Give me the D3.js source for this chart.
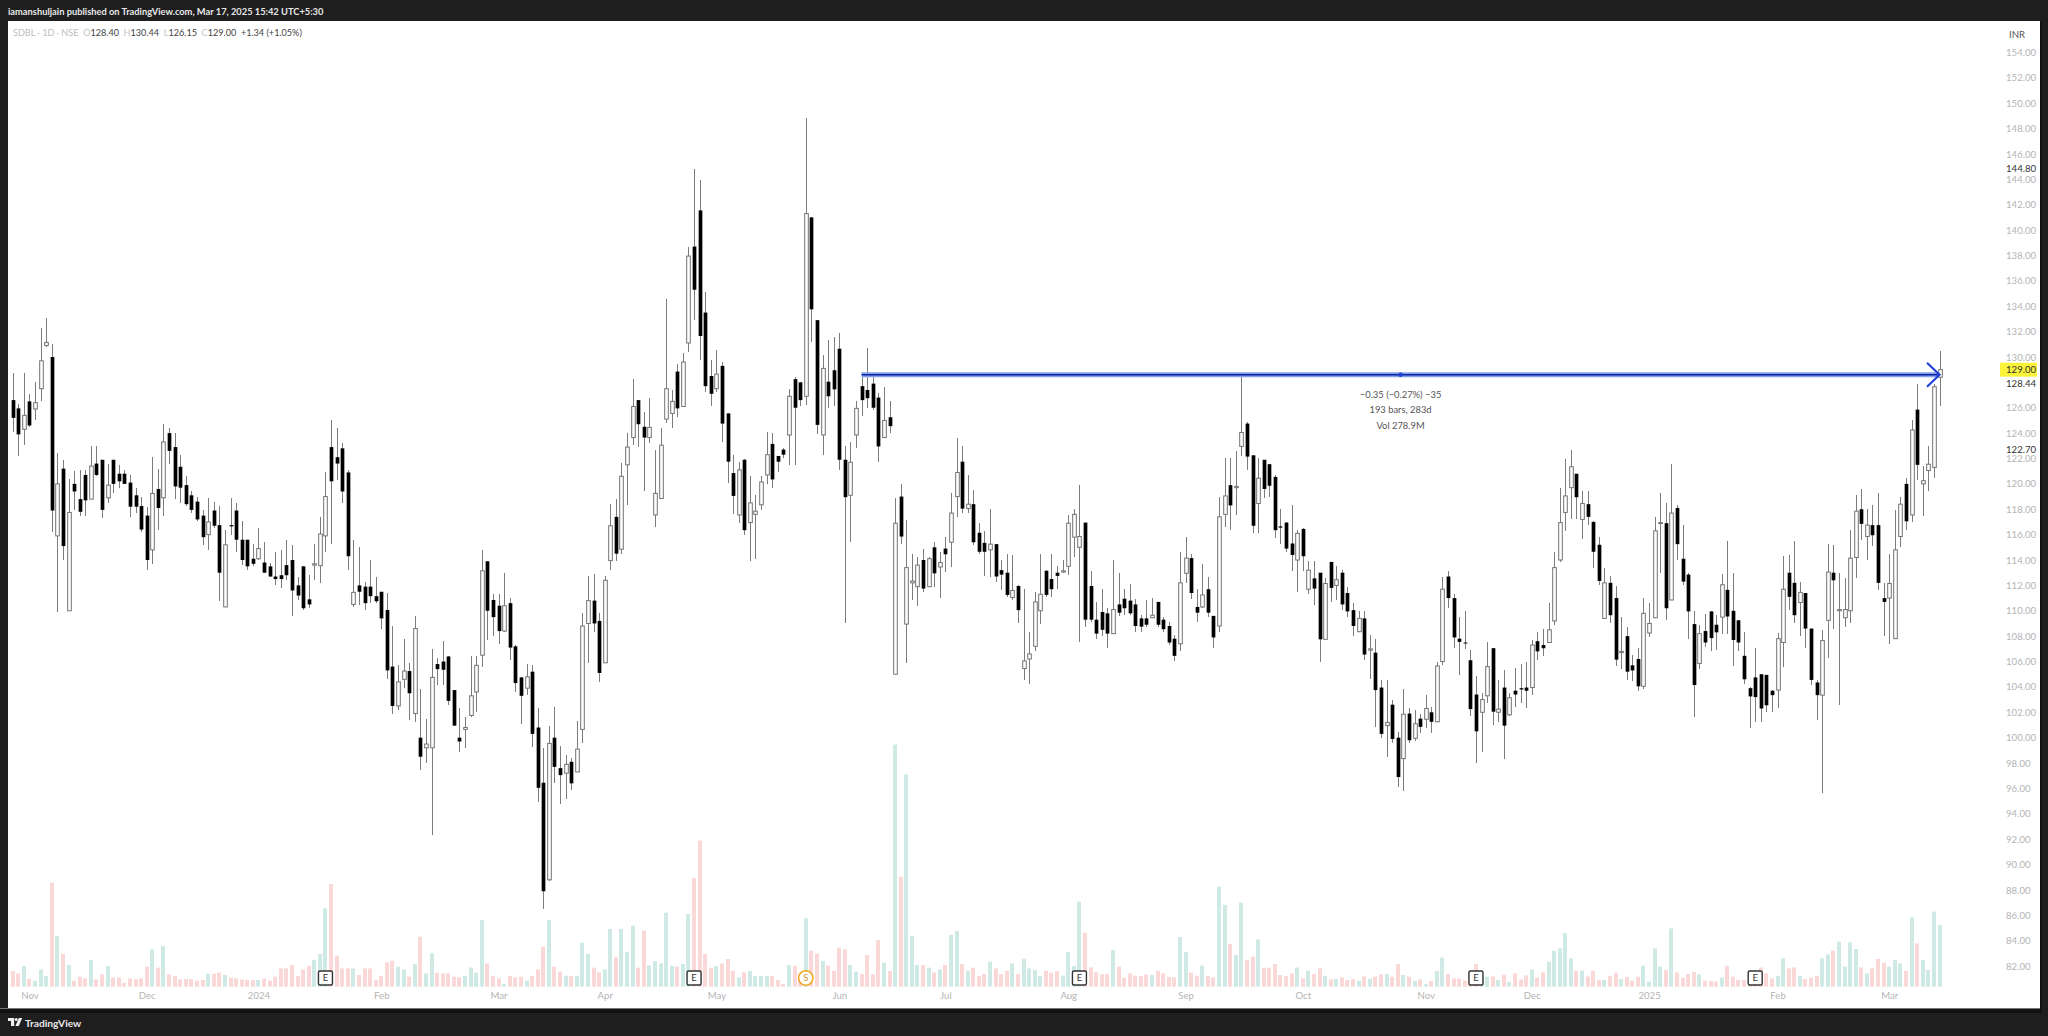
<!DOCTYPE html>
<html>
<head>
<meta charset="utf-8">
<script src="https://cdn.jsdelivr.net/npm/d3@7"></script>
<style>
  html, body { margin: 0; padding: 0; background: #1e1e1e; overflow: hidden; }
  text { font-family: Lato, Roboto, sans-serif; }
</style>
</head>
<body>
<script>
var width = 2048, height = 1036

// daily bars, Nov 2023 to 17 Mar 2025
var open = [
  126.6,125.95,124.3,126.5,125.9,127.5,130.9,130.0,115.9,121.2,
  110.0,120.0,118.8,120.7,118.8,121.6,121.9,118.9,121.9,120.8,
  120.8,120.1,119.1,118.25,117.5,114.8,119.6,118.9,124.0,122.9,
  121.35,119.9,119.1,118.6,117.5,116.0,117.9,116.75,110.3,116.75,
  117.9,115.6,115.6,114.1,114.1,113.8,113.5,112.7,112.8,113.6,
  114.0,112.0,113.5,110.9,113.6,113.55,115.9,122.9,122.1,122.8,
  120.9,110.5,112.0,111.9,111.9,111.15,111.5,110.06,105.6,102.5,
  104.6,105.25,101.9,100.0,99.2,99.2,105.8,106.0,106.4,103.75,
  100.0,100.65,101.75,103.6,106.5,113.9,110.85,110.4,108.4,110.6,
  107.2,104.75,103.9,105.2,100.8,96.45,88.8,100.0,97.6,97.2,
  98.1,97.3,100.65,109.0,110.8,109.2,105.9,113.95,117.4,114.85,
  121.5,123.65,126.6,124.5,123.65,117.55,118.85,125.1,125.55,128.85,
  126.1,131.1,138.7,141.55,133.5,128.5,127.5,129.3,125.55,120.85,
  117.55,121.9,116.95,117.6,118.35,120.7,123.15,122.2,122.7,123.85,
  128.25,128.0,126.9,141.0,132.9,123.85,128.05,128.95,130.65,121.9,
  119.1,123.85,127.7,127.4,127.9,126.8,123.65,125.25,105.0,119.0,
  108.95,112.2,111.9,114.0,111.9,115.0,113.45,114.9,115.4,119.0,
  121.75,118.05,118.4,116.15,115.35,114.8,115.25,113.2,113.0,111.05,
  111.95,105.45,106.2,107.2,110.0,113.15,112.5,113.0,113.05,113.5,
  115.8,115.0,116.95,111.95,109.3,109.9,109.8,108.2,110.5,110.95,
  110.8,110.5,109.4,109.4,109.45,110.7,109.3,108.8,107.8,107.4,
  112.95,114.15,110.3,110.3,111.7,109.6,108.8,117.6,119.9,119.7,
  122.95,124.75,122.25,118.45,121.9,121.55,120.55,116.65,116.95,115.3,
  114.0,116.45,111.7,112.55,113.0,107.75,113.85,112.0,113.0,111.4,
  110.05,108.35,109.4,106.9,106.7,103.95,100.95,102.6,100.0,98.35,
  101.9,99.95,101.5,101.45,102.0,101.25,106.0,112.7,111.0,107.8,
  107.5,106.1,103.4,102.0,103.3,107.05,102.0,103.95,101.8,103.7,
  103.9,103.95,103.95,107.6,107.3,107.5,109.2,114.0,117.75,119.7,
  120.8,117.2,118.4,117.0,115.2,109.4,112.2,111.0,106.7,108.0,
  105.7,106.2,104.05,108.25,109.45,116.9,116.9,110.85,118.1,114.1,
  112.85,108.95,105.85,108.4,109.95,108.9,109.5,111.65,110.0,109.25,
  106.45,103.9,104.75,105.0,104.95,103.7,103.75,107.5,113.0,112.2,
  110.65,111.4,108.6,104.35,103.35,109.25,113.0,110.0,109.45,110.0,
  114.2,118.0,115.85,116.75,116.75,111.0,111.0,107.8,115.85,120.0,
  117.55,125.85,120.0,121.05,121.3,128.4]

var high = [
  128.7,126.3,128.7,127.1,128.05,132.3,133.05,131.0,122.4,121.9,
  120.4,121.0,121.1,121.1,123.0,123.0,121.9,121.6,121.9,121.5,
  121.1,120.7,119.7,119.0,118.2,122.1,121.2,124.7,124.4,124.0,
  122.3,120.6,119.4,119.0,117.95,118.9,118.6,118.25,116.4,118.9,
  118.5,117.1,115.6,115.3,116.5,115.4,113.8,114.6,114.8,115.6,
  115.2,112.7,113.5,112.8,115.3,117.4,120.9,125.0,124.4,123.2,
  121.1,115.6,115.0,112.3,114.0,112.7,111.5,111.4,108.8,105.7,
  107.8,105.9,109.6,103.8,101.5,107.0,106.25,107.6,106.4,103.75,
  102.3,101.65,106.4,106.4,114.8,113.9,111.3,111.3,113.0,111.0,
  107.3,104.75,105.8,105.7,102.3,99.2,100.9,102.45,99.35,98.6,
  98.4,101.3,109.8,112.75,112.9,109.8,112.75,118.4,118.8,121.65,
  124.0,128.3,126.6,125.7,126.75,122.65,124.4,134.55,127.4,129.45,
  130.3,138.7,144.8,143.95,135.15,129.75,130.55,129.6,125.55,122.25,
  121.75,121.95,120.6,119.1,120.6,124.1,124.0,122.2,122.8,127.5,
  128.45,128.0,148.8,141.0,132.9,130.15,131.35,131.55,131.85,123.0,
  123.3,126.5,128.6,130.7,128.7,127.15,127.65,126.55,118.85,120.0,
  117.15,114.5,114.25,114.9,114.25,115.45,114.6,115.85,119.25,123.6,
  123.0,120.7,119.55,116.9,116.25,118.0,115.3,114.0,114.45,114.4,
  112.05,111.75,108.35,111.45,114.5,113.2,114.5,113.5,114.0,117.55,
  118.0,119.9,116.95,113.15,110.7,111.7,110.2,114.0,113.0,111.75,
  112.1,110.9,109.65,110.85,111.0,110.7,109.5,109.1,108.1,114.65,
  115.85,114.45,111.75,113.7,112.7,109.6,119.0,122.0,122.0,122.6,
  128.5,124.9,122.25,122.0,121.9,121.6,120.7,118.0,117.0,118.35,
  116.35,116.5,113.9,113.9,113.0,112.55,113.85,113.5,113.2,111.9,
  110.6,109.95,109.95,108.1,107.75,104.55,104.55,103.0,100.45,103.8,
  102.3,102.2,101.9,103.4,102.45,106.0,112.7,113.15,111.35,109.5,
  110.0,106.9,104.85,103.5,107.5,107.05,104.55,105.35,103.5,105.5,
  105.8,106.0,107.7,108.3,108.55,110.65,114.6,119.65,121.95,122.7,
  120.8,119.45,119.45,117.1,115.85,113.35,112.75,111.95,109.5,108.75,
  106.5,107.05,111.0,110.6,117.4,119.3,118.5,121.55,118.35,116.75,
  112.95,109.95,108.9,109.75,109.95,109.65,112.9,115.5,113.0,109.25,
  108.3,104.0,107.05,105.05,104.95,103.75,108.25,114.35,114.4,115.5,
  112.25,111.4,108.6,104.55,108.5,115.25,115.15,112.95,112.55,116.4,
  119.1,119.6,118.05,118.35,119.25,112.2,114.5,117.95,119.0,120.5,
  125.05,127.85,121.4,123.0,127.9,130.44]

var low = [
  124.1,122.2,123.1,124.5,125.0,126.5,130.8,116.2,109.9,114.0,
  110.0,117.95,117.5,117.5,118.8,120.6,117.3,118.5,119.3,119.65,
  120.0,117.4,117.7,116.2,113.2,113.7,116.4,117.5,121.6,118.8,
  118.5,118.25,117.7,117.1,115.2,114.8,116.5,110.8,110.3,116.0,
  114.65,113.6,113.2,113.5,114.0,112.95,112.7,112.0,111.8,112.4,
  109.6,110.85,110.1,110.2,112.4,112.2,114.65,115.3,120.3,118.5,
  113.2,110.3,110.45,110.05,110.6,110.6,108.6,104.6,101.9,102.2,
  103.9,101.4,101.2,97.45,98.0,92.3,104.15,104.15,102.6,100.9,
  98.9,99.2,101.65,102.05,105.6,107.7,108.0,107.35,108.35,106.1,
  103.6,101.1,103.35,99.25,94.95,86.5,88.7,96.4,94.8,95.2,
  95.9,97.3,99.6,105.85,108.35,104.4,105.85,113.2,113.95,114.5,
  118.3,123.05,122.9,119.4,123.2,116.6,118.85,124.8,124.4,125.3,
  126.05,130.4,132.9,129.8,127.25,126.1,127.25,123.3,120.05,117.65,
  116.9,115.95,113.9,114.05,117.95,120.0,119.65,120.95,122.0,121.5,
  121.5,126.1,126.2,131.2,123.95,122.3,125.95,126.1,121.1,109.05,
  115.45,122.8,125.35,125.95,125.8,121.75,123.6,124.0,105.0,115.3,
  105.85,110.85,110.4,111.5,111.85,111.9,111.0,113.05,113.45,117.35,
  117.7,117.7,115.2,114.45,112.75,112.7,112.3,111.65,111.05,110.85,
  109.0,104.55,104.2,106.8,108.95,111.05,111.1,111.7,112.95,112.8,
  114.25,107.55,108.75,109.15,107.8,108.0,107.1,108.2,109.55,109.65,
  109.65,108.35,108.35,108.75,109.4,108.75,108.35,107.3,106.05,106.8,
  112.15,110.9,109.15,110.2,109.5,107.1,108.35,116.6,116.35,117.55,
  122.2,121.1,116.15,116.1,118.85,119.0,115.7,115.3,114.65,113.1,
  111.5,113.1,111.35,110.45,106.0,107.75,110.7,110.85,110.05,109.5,
  108.0,108.35,106.1,104.6,100.85,99.95,98.5,99.55,96.1,95.8,
  99.55,99.7,100.4,100.75,100.4,101.25,105.7,110.2,107.05,104.95,
  107.0,101.7,98.0,98.9,102.7,101.0,101.25,98.35,101.7,102.45,
  102.7,102.3,103.35,106.1,106.4,107.45,108.9,113.85,116.25,117.2,
  117.2,115.65,116.75,113.4,112.0,109.4,109.0,105.65,105.45,104.55,
  104.5,103.7,103.8,107.9,109.4,113.0,109.3,110.85,114.0,112.05,
  107.75,101.6,105.4,107.15,106.85,106.9,108.2,108.2,105.65,106.8,
  104.25,100.75,101.25,101.25,102.0,102.0,102.3,105.6,110.1,109.0,
  108.0,107.1,104.15,101.4,95.65,106.25,108.55,102.6,108.7,109.0,
  112.55,115.55,114.0,115.1,111.65,108.0,107.4,107.75,115.0,116.4,
  117.0,120.3,117.5,119.4,120.45,126.15]

var close = [
  125.2,123.9,125.4,124.6,126.4,129.7,131.15,117.9,120.0,115.1,
  117.75,119.4,117.8,118.7,121.4,120.7,117.95,119.9,120.0,120.2,
  120.0,118.2,118.2,116.4,114.0,119.25,118.1,123.3,122.6,119.8,
  119.7,118.4,117.95,117.2,115.8,117.0,116.7,113.0,115.2,116.65,
  115.6,114.0,113.5,113.7,114.9,113.0,112.7,112.5,112.5,112.8,
  111.6,111.2,110.2,110.5,113.7,116.05,119.0,120.2,121.6,119.4,
  114.3,111.45,111.5,110.6,111.15,110.75,109.4,105.3,102.5,104.4,
  105.25,103.5,108.6,98.5,99.5,104.75,105.4,105.35,102.9,100.95,
  99.7,100.8,103.3,105.7,113.15,110.0,109.5,108.4,110.4,107.1,
  104.3,103.3,104.8,100.3,96.05,87.9,99.55,97.7,97.05,97.9,
  96.4,99.1,108.8,110.8,109.0,105.1,112.4,116.7,114.5,120.6,
  122.9,126.1,124.7,123.65,124.45,119.25,123.05,127.5,126.5,125.95,
  129.6,137.95,135.3,131.65,127.7,127.1,128.65,124.75,121.75,119.05,
  121.1,116.35,118.5,117.85,120.15,122.3,120.35,121.75,122.3,126.9,
  126.0,126.6,141.3,133.75,124.65,129.1,126.9,127.45,121.9,118.95,
  121.7,125.95,126.6,126.75,126.0,122.95,125.0,124.55,116.9,115.85,
  113.4,112.35,113.6,111.75,114.1,112.95,113.8,114.45,117.7,120.9,
  118.05,118.4,115.4,114.65,114.65,115.25,112.7,112.85,111.25,111.6,
  110.05,106.05,106.6,110.7,111.3,111.25,111.7,112.75,113.15,116.9,
  117.6,115.85,109.3,109.3,108.2,108.5,108.2,110.1,109.85,110.2,
  109.8,108.8,108.75,108.9,109.65,108.9,108.55,107.5,106.45,112.2,
  114.15,111.4,109.85,111.25,109.85,107.9,117.4,119.05,118.3,119.8,
  124.05,122.15,116.7,120.45,119.6,119.85,116.35,116.55,114.9,114.4,
  116.1,114.3,113.2,111.75,107.75,112.15,111.8,112.45,110.5,109.95,
  108.8,109.4,106.55,107.0,103.75,100.3,101.2,99.9,96.9,101.85,
  99.8,101.1,100.85,102.3,101.25,105.65,111.7,111.0,107.9,107.55,
  107.45,102.25,100.5,103.0,105.6,102.05,102.25,100.95,103.15,103.4,
  103.8,103.7,107.3,106.8,107.05,108.5,113.4,116.95,119.05,121.35,
  118.95,118.45,117.4,114.65,112.35,112.2,109.65,106.15,106.8,105.2,
  105.3,104.05,109.8,109.0,116.3,116.95,110.2,117.7,115.25,112.3,
  109.95,104.15,108.2,107.5,107.85,108.3,112.05,109.55,107.7,107.5,
  104.6,103.25,103.2,102.3,102.55,103.35,107.8,111.7,111.1,109.65,
  111.45,108.6,104.55,103.35,107.65,113.05,112.4,110.1,110.1,114.15,
  117.85,116.85,116.75,115.95,112.2,110.7,112.15,114.8,118.4,117.05,
  124.25,121.5,120.25,121.55,127.65,129.0]

// volume in millions of shares
var volume = [
  1.57,1.33,2.07,.8,.6,1.73,1.07,10.4,5.07,3.27,
  2.17,.6,1.0,.83,2.67,.73,1.23,2.07,.93,.93,
  .4,.83,.73,.83,2.0,3.73,1.9,4.07,1.23,1.07,
  .73,.77,.77,.6,.67,1.3,1.3,1.4,1.17,.9,
  .83,.73,.67,.67,.67,.8,.6,1.0,1.83,1.83,
  2.17,1.07,1.73,2.07,2.67,3.27,7.83,10.27,3.1,1.83,
  1.83,1.83,1.17,1.83,1.83,.67,1.07,2.43,2.6,2.0,
  1.73,1.0,2.27,5.0,1.33,3.33,1.4,1.33,1.33,1.0,
  .93,1.07,1.93,1.4,6.67,2.33,1.07,.83,.27,1.07,
  .93,1.0,.6,1.07,1.73,4.0,6.67,2.0,1.5,1.1,
  1.07,1.07,4.4,3.27,1.9,1.43,1.73,5.77,2.93,5.77,
  3.47,6.1,1.9,5.6,2.13,2.57,2.33,7.4,2.1,2.0,
  2.27,7.27,10.87,14.6,3.27,1.9,2.07,2.33,2.77,1.6,
  .93,1.43,1.57,1.07,1.07,1.07,1.07,.67,.27,2.17,
  2.1,1.0,6.83,3.6,3.33,2.57,2.1,1.6,3.9,3.73,
  2.17,1.5,1.27,3.17,1.23,4.67,2.4,1.57,24.2,11.0,
  21.2,5.07,2.17,2.17,1.9,1.43,1.73,2.17,5.17,5.57,
  2.27,1.6,1.9,1.07,1.27,2.5,1.83,1.27,1.6,2.33,
  1.27,2.8,1.83,1.67,1.07,1.6,1.4,1.57,1.1,3.47,
  2.07,8.5,5.4,1.93,1.43,1.23,1.27,3.67,2.0,.9,
  1.33,1.1,1.07,1.23,1.17,1.6,1.33,.97,.93,4.97,
  3.47,1.4,1.1,2.1,1.1,.93,10.0,8.17,4.27,3.17,
  8.4,2.67,3.0,4.73,1.9,1.9,2.27,1.17,1.07,1.33,
  1.93,.83,1.6,1.27,1.83,1.07,.73,.77,.93,.67,
  .77,.6,1.03,.8,1.0,1.23,1.27,1.0,2.27,1.17,
  1.0,.57,.73,.27,.57,1.57,2.9,1.27,.83,.8,
  .6,1.5,2.27,1.17,1.0,1.03,.67,1.2,.47,1.33,
  .73,1.13,1.73,.93,1.43,2.5,3.6,3.83,5.37,2.83,
  1.6,1.6,1.03,1.6,.67,.67,1.07,1.4,.77,.97,
  .6,1.0,2.1,.5,3.83,2.0,1.67,5.83,1.43,.9,
  1.27,1.47,1.23,.6,.57,.5,.93,2.1,1.0,.67,
  .67,.83,1.17,1.93,1.33,.83,1.07,2.83,1.83,1.93,
  1.07,.77,.9,1.07,2.83,3.23,3.6,4.5,2.0,4.43,
  3.77,1.93,1.33,1.83,2.77,2.4,2.0,2.67,2.33,1.6,
  6.93,4.33,2.67,1.67,7.5,6.17]

var priceTicks = [82,84,86,88,90,92,94,96,98,100,102,104,106,108,110,112,114,116,118,
  120,122,124,126,128,130,132,134,136,138,140,142,144,146,148,150,152,154]
var monthBars = [3,24,44,66,87,106,126,148,167,189,210,231,253,272,293,316,336]
var monthLabels = ["Nov","Dec","2024","Feb","Mar","Apr","May","Jun","Jul","Aug","Sep","Oct","Nov","Dec","2025","Feb","Mar"]
var eventBars = [56,122,142,191,262,312]
var eventKinds = ["E","E","S","E","E","E"]
var priceMarks = [144.80,122.70]
var lastClose = 129.00, lastOpenLabel = 128.44
var measureFrom = 152, measureTo = 345, measurePrice = 128.6
var measureLines = ["\u22120.35 (\u22120.27%) \u221235","193 bars, 283d","Vol 278.9M"]

var x = d3.scaleLinear().domain([0, 345]).range([12.7, 1939.5])
var y = d3.scaleLinear().domain([82, 154]).range([966.1, 52.4])
var v = d3.scaleLinear().domain([0, 24.2]).range([986.7, 744.5])

var svg = d3.select("body").append("svg")
    .attr("width", width)
    .attr("height", height)
    .style("display", "block")

svg.append("rect").attr("width", width).attr("height", height).attr("fill", "#1e1e1e")
svg.append("rect").attr("x", 8).attr("y", 21).attr("width", 2032).attr("height", 987).attr("fill", "#fff")
svg.append("rect").attr("x", 0).attr("y", 1008).attr("width", 2040).attr("height", 1).attr("fill", "#777")
svg.append("rect").attr("x", 0).attr("y", 1009).attr("width", 2042).attr("height", 4).attr("fill", "#111")
svg.append("rect").attr("x", 2040).attr("y", 21).attr("width", 2).attr("height", 992).attr("fill", "#111")

// header and legend
svg.append("text").attr("x", 8).attr("y", 14.5)
    .attr("fill", "#e8e8e8").attr("font-size", 9.3).attr("font-weight", 700)
    .text("iamanshuljain published on TradingView.com, Mar 17, 2025 15:42 UTC+5:30")

var legend = svg.append("text").attr("x", 13).attr("y", 35.5).attr("font-size", 9.1)
var legendParts = [["SDBL \u00b7 1D \u00b7 NSE  ", "#bdbdbd"], ["O", "#c4c4c4"], ["128.40  ", "#444"], ["H", "#c4c4c4"], ["130.44  ", "#444"],
  ["L", "#c4c4c4"], ["126.15  ", "#444"], ["C", "#c4c4c4"], ["129.00  ", "#444"], ["+1.34 (+1.05%)", "#444"]]
legend.attr("xml:space", "preserve").style("white-space", "pre")
legend.selectAll("tspan").data(legendParts).enter().append("tspan")
    .attr("fill", function(d) { return d[1] })
    .text(function(d) { return d[0] })

// volume
svg.append("g").selectAll("rect")
    .data(volume)
  .enter().append("rect")
    .attr("x", function(d, i) { return Math.round(x(i)) - 2 })
    .attr("y", function(d) { return v(d) })
    .attr("width", 4)
    .attr("height", function(d) { return v(0) - v(d) })
    .attr("fill", function(d, i) { return close[i] >= open[i] ? "#cfeae5" : "#fbd8d8" })

// candles
var bars = svg.append("g")
  .selectAll("g")
    .data(d3.range(open.length))
  .enter().append("g")

bars.append("line")
    .attr("shape-rendering", "crispEdges")
    .attr("x1", function(i) { return Math.round(x(i)) + 0.5 })
    .attr("x2", function(i) { return Math.round(x(i)) + 0.5 })
    .attr("y1", function(i) { return y(high[i]) })
    .attr("y2", function(i) { return y(low[i]) })
    .attr("stroke", "#7c7c7c")

bars.append("rect")
    .attr("x", function(i) { return Math.round(x(i)) + 0.5 - (close[i] >= open[i] ? 1.8 : 1.85) })
    .attr("y", function(i) { return y(Math.max(open[i], close[i])) })
    .attr("width", function(i) { return close[i] >= open[i] ? 3.6 : 3.7 })
    .attr("height", function(i) { return Math.max(1, Math.abs(y(open[i]) - y(close[i]))) })
    .attr("fill", function(i) { return close[i] >= open[i] ? "#fff" : "#000" })
    .attr("stroke", function(i) { return close[i] >= open[i] ? "#727272" : "none" })
    .attr("stroke-width", 1)

// earnings and split markers
var events = svg.append("g").selectAll("g")
    .data(eventBars)
  .enter().append("g")
    .attr("transform", function(d) { return "translate(" + x(d) + ",978)" })

events.filter(function(d, i) { return eventKinds[i] == "E" }).append("rect")
    .attr("x", -7).attr("y", -7).attr("width", 14).attr("height", 14).attr("rx", 1.5)
    .attr("fill", "#fff").attr("stroke", "#333").attr("stroke-width", 1.4)
events.filter(function(d, i) { return eventKinds[i] == "S" }).append("circle")
    .attr("r", 7.2).attr("fill", "#fff").attr("stroke", "#efa928").attr("stroke-width", 1.6)
events.append("text")
    .attr("text-anchor", "middle").attr("dy", "0.36em").attr("font-size", 9.5)
    .attr("fill", function(d, i) { return eventKinds[i] == "S" ? "#d9921a" : "#333" })
    .text(function(d, i) { return eventKinds[i] })

// measure tool
var measure = svg.append("g")
measure.append("line")
    .attr("x1", x(measureFrom)).attr("x2", x(measureTo))
    .attr("y1", y(measurePrice)).attr("y2", y(measurePrice))
    .attr("stroke", "#86a0ea").attr("stroke-width", 5)
measure.append("line")
    .attr("x1", x(measureFrom)).attr("x2", x(measureTo))
    .attr("y1", y(measurePrice)).attr("y2", y(measurePrice))
    .attr("stroke", "#0a23a8").attr("stroke-width", 1.5)
measure.append("path")
    .attr("d", "M" + (x(measureTo) - 12.5) + "," + (y(measurePrice) - 12) + "L" + x(measureTo) + "," + y(measurePrice) +
      "L" + (x(measureTo) - 12.5) + "," + (y(measurePrice) + 12))
    .attr("fill", "none").attr("stroke", "#2343d6").attr("stroke-width", 2.2)
measure.append("circle")
    .attr("cx", x((measureFrom + measureTo) / 2)).attr("cy", y(measurePrice)).attr("r", 2.2)
    .attr("fill", "#2343d6")
measure.selectAll("text")
    .data(measureLines)
  .enter().append("text")
    .attr("x", x((measureFrom + measureTo) / 2))
    .attr("y", function(d, i) { return 397.5 + i * 15.5 })
    .attr("text-anchor", "middle").attr("font-size", 9.4).attr("fill", "#555")
    .text(function(d) { return d })

// price axis
var yAxis = svg.append("g")
    .attr("transform", "translate(2006,0)")
    .call(d3.axisRight(y).tickValues(priceTicks).tickSize(0).tickPadding(0).tickFormat(d3.format(".2f")))
yAxis.select(".domain").remove()
yAxis.selectAll("text").attr("fill", "#b4b4b4").attr("font-size", 9.6).style("font-family", "Lato, Roboto, sans-serif")

svg.append("text").attr("x", 2009).attr("y", 38).attr("font-size", 9.6).attr("fill", "#555").text("INR")

function priceLabel(value, atY, boxH, bg, color) {
  svg.append("rect").attr("x", 2000).attr("y", atY - boxH / 2).attr("width", 37).attr("height", boxH).attr("fill", bg)
  svg.append("text").attr("x", 2006).attr("y", atY).attr("dy", "0.34em")
      .attr("font-size", 9.6).attr("fill", color).text(d3.format(".2f")(value))
}
priceMarks.forEach(function(p) { priceLabel(p, y(p), 11, "#fff", "#333") })
priceLabel(lastOpenLabel, y(lastOpenLabel) + 6.5, 12, "#fff", "#333")
priceLabel(lastClose, y(lastClose), 14, "#fbf23a", "#333")

// time axis
var xAxis = svg.append("g")
    .attr("transform", "translate(0,992.5)")
    .call(d3.axisBottom(x).tickValues(monthBars).tickSize(0).tickPadding(0)
      .tickFormat(function(d) { return monthLabels[monthBars.indexOf(d)] }))
xAxis.select(".domain").remove()
xAxis.selectAll("text").attr("fill", "#b4b4b4").attr("font-size", 9.6).style("font-family", "Lato, Roboto, sans-serif")

// footer logo
var logo = svg.append("g").attr("fill", "#f0f0f0")
logo.append("path").attr("d", "M8,1018h6.2v8h-3.2v-5h-3z")
logo.append("circle").attr("cx", 16.2).attr("cy", 1019.6).attr("r", 1.5)
logo.append("path").attr("d", "M18.8,1018h3.4l-3.4,8h-3.4z")
svg.append("text").attr("x", 25).attr("y", 1026.5)
    .attr("fill", "#e8e8e8").attr("font-size", 10.2).attr("font-weight", 700)
    .text("TradingView")
</script>
</body>
</html>
